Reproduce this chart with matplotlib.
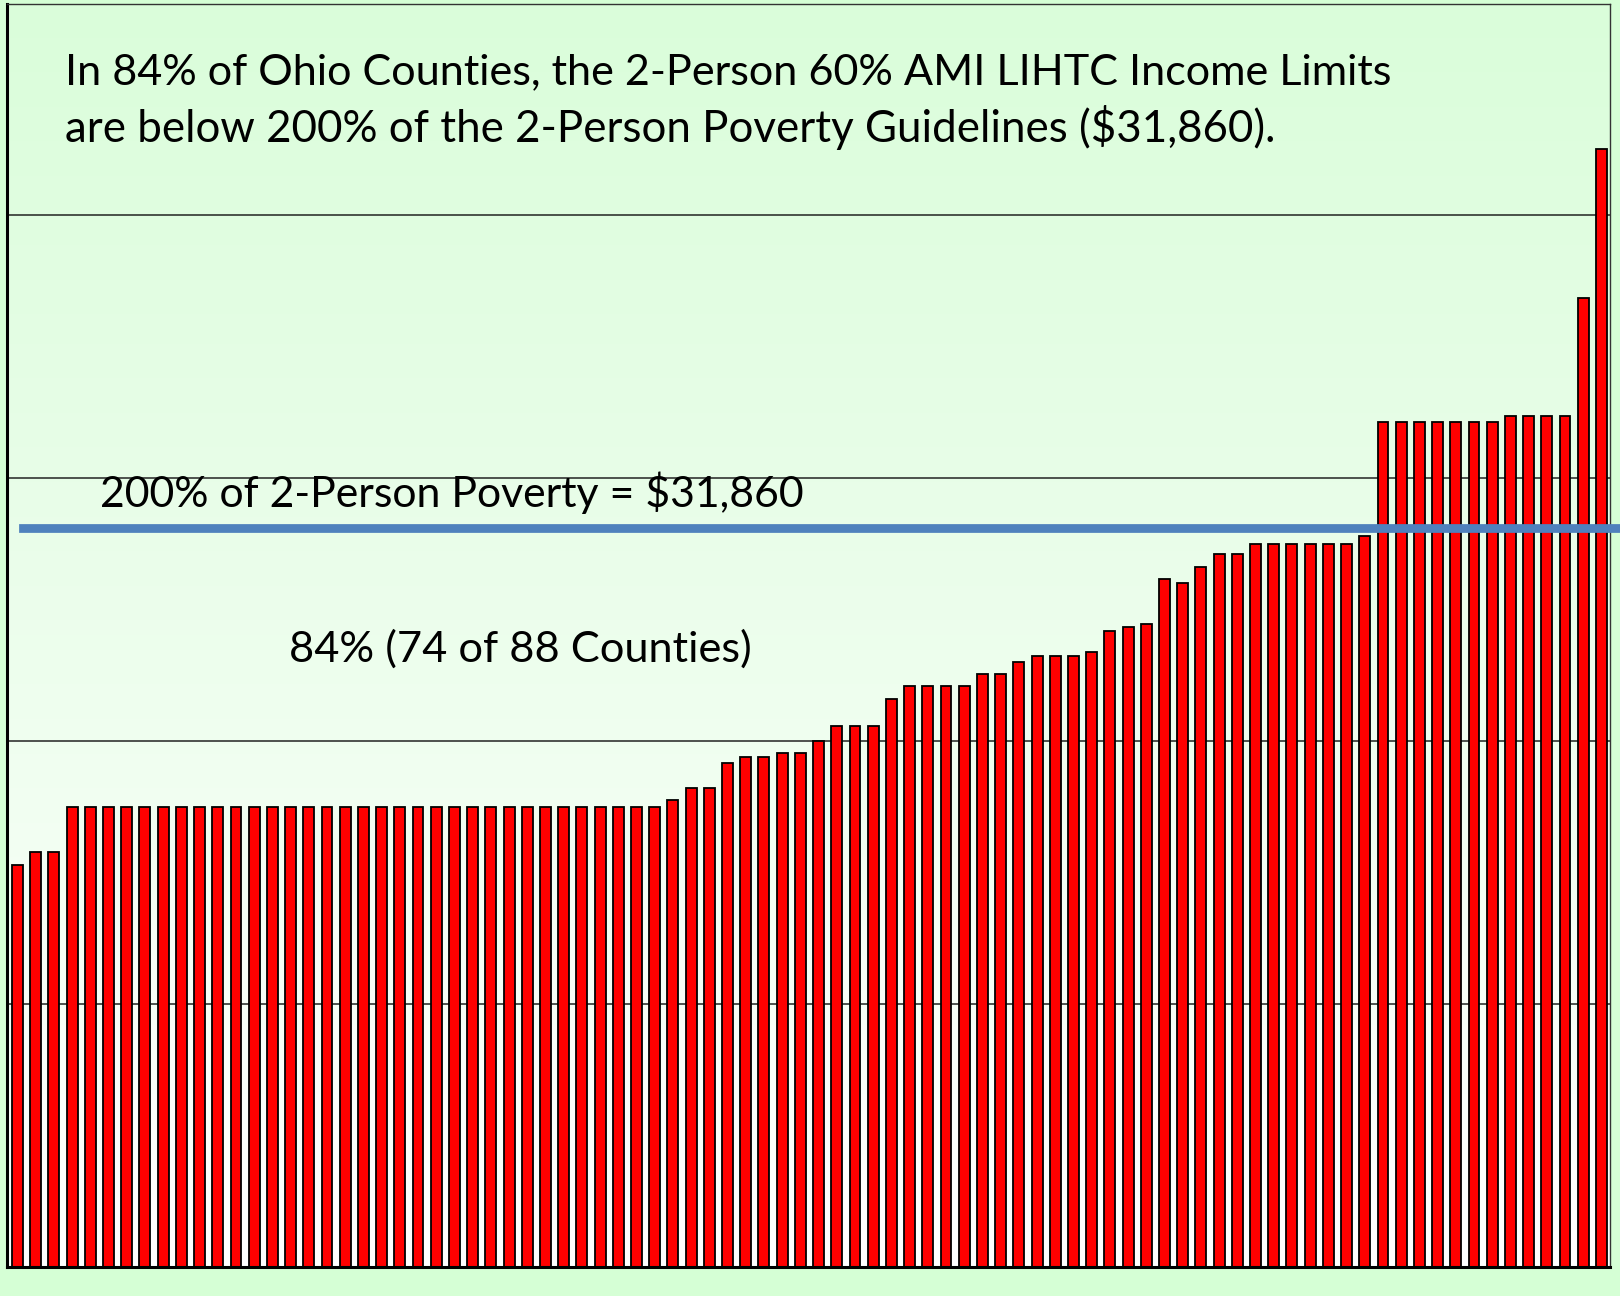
import numpy as np
import matplotlib
matplotlib.use("Agg")
import matplotlib.pyplot as plt

# 2-person 60% AMI LIHTC income limits, Ohio counties sorted low to high
county_rank = np.arange(1, 89)
income_limit = [
    24180, 24470, 24470,
    25500, 25500, 25500, 25500, 25500, 25500, 25500, 25500, 25500, 25500, 25500,
    25500, 25500, 25500, 25500, 25500, 25500, 25500, 25500, 25500, 25500, 25500,
    25500, 25500, 25500, 25500, 25500, 25500, 25500, 25500, 25500, 25500, 25500,
    25650, 25930, 25930, 26500, 26640, 26640, 26730, 26730, 27010,
    27350, 27350, 27350, 27970, 28250, 28250, 28250, 28250, 28530, 28530,
    28820, 28950, 28950, 28950, 29040, 29520, 29610, 29670,
    30700, 30600, 30970, 31270, 31270,
    31490, 31490, 31490, 31490, 31490, 31490, 31680,
    34280, 34280, 34280, 34280, 34280, 34280, 34280,
    34420, 34420, 34420, 34420, 37110, 40510,
]
poverty_200 = 31860
grid_values = [21000, 27000, 33000, 39000]
y_range = (15000, 43820)

title_lines = [
    "In 84% of Ohio Counties, the 2-Person 60% AMI LIHTC Income Limits",
    "are below 200% of the 2-Person Poverty Guidelines ($31,860).",
]
line_label = "200% of 2-Person Poverty = $31,860"
share_label = "84% (74 of 88 Counties)"

W, H = 1620, 1296
fig = plt.figure(figsize=(W / 100, H / 100), dpi=100, facecolor="#d5ffd5")
ax = fig.add_axes([7.3 / W, 1 - 1267.3 / H, (1610 - 7.3) / W, (1267.3 - 4) / H])

# background gradient: pale green at top fading to white at the bottom
grad = np.linspace(0, 1, 256).reshape(-1, 1)
cmap = matplotlib.colors.LinearSegmentedColormap.from_list("bg", ["#ffffff", "#dafdda"])
ax.imshow(grad, extent=[0, 1, 0, 1], transform=ax.transAxes, aspect="auto",
          cmap=cmap, origin="lower", zorder=0)

ax.bar(county_rank, income_limit, width=0.6, color="#ff0000",
       edgecolor="black", linewidth=1.3, zorder=2)

# hand-drawn style threshold line (starts a little right of the axis, runs past it)
ax.axhline(poverty_200, xmin=0.0098, xmax=1.006, color="#4f81bd",
           linewidth=6.3, zorder=3, clip_on=False)

ax.set_xlim(county_rank[0] - 0.56, county_rank[-1] + 0.47)
ax.set_ylim(*y_range)
ax.set_yticks(grid_values)
ax.yaxis.grid(True, color="#222222", linewidth=1.1, zorder=1)
ax.set_axisbelow(True)
ax.set_xticks([])
ax.tick_params(axis="y", length=0, labelleft=False)

for side in ["left", "bottom"]:
    ax.spines[side].set_linewidth(2.2)
for side in ["top", "right"]:
    ax.spines[side].set_linewidth(1.0)
    ax.spines[side].set_color("#333333")

plt.rcParams["font.family"] = ["Lato", "DejaVu Sans"]
renderer = fig.canvas.get_renderer()


def fit_text(x_px, base_px, s, width_px):
    t = fig.text(x_px / W, 1 - base_px / H, s, fontsize=30, va="baseline",
                 ha="left", color="black")
    w = t.get_window_extent(renderer).width
    t.set_fontsize(30 * width_px / w)


fit_text(65, 84.5, title_lines[0], 1328)
fit_text(65, 142, title_lines[1], 1208)
fit_text(100, 507, line_label, 704)
fit_text(289, 662, share_label, 463)

fig.savefig("out.png", dpi=100, facecolor=fig.get_facecolor())
